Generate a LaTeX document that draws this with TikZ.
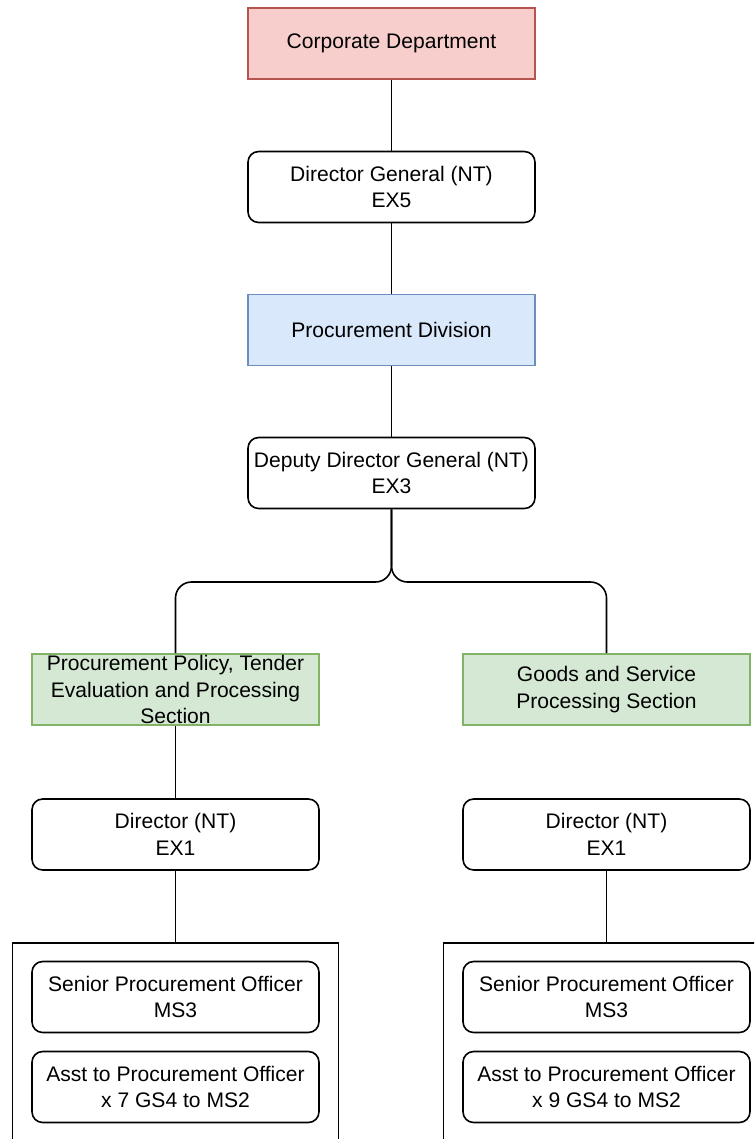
\documentclass[tikz,border=0pt]{standalone}
\usepackage{fontspec}
\setmainfont{Liberation Sans}
\definecolor{deptfill}{HTML}{F8CECC}
\definecolor{deptline}{HTML}{B85450}
\definecolor{divfill}{HTML}{DAE8FC}
\definecolor{divline}{HTML}{6C8EBF}
\definecolor{secfill}{HTML}{D5E8D4}
\definecolor{secline}{HTML}{82B366}
\begin{document}
\begin{tikzpicture}[x=0.75pt, y=-0.75pt, line width=1.2pt,
  box/.style={draw, minimum width=215.25pt, minimum height=53.25pt, inner sep=0pt,
    align=center, font=\fontsize{15.8}{19.8}\selectfont},
  post/.style={box, rounded corners=8pt, fill=white},
  dept/.style={box, fill=deptfill, draw=deptline},
  divn/.style={box, fill=divfill, draw=divline},
  sect/.style={box, fill=secfill, draw=secline},
  grp/.style={draw, minimum width=244.5pt, minimum height=162.75pt, inner sep=0pt}]
\useasboundingbox (0,0) rectangle (754,1139);
\clip (0,0) rectangle (754,1139);

\node[dept] (dept) at (391.5,43.5) {Corporate Department};
\node[post] (dg) at (391.5,187) {Director General (NT)\\EX5};
\node[divn] (div) at (391.5,330) {Procurement Division};
\node[post] (ddg) at (391.5,473) {Deputy Director General (NT)\\EX3};
\coordinate (split) at (391.5,582);

\node[sect] (secL) at (175.5,689.5) {Procurement Policy, Tender\\Evaluation and Processing\\Section};
\node[sect] (secR) at (606.5,689.5) {Goods and Service\\Processing Section};
\node[post] (dirL) at (175.5,834.5) {Director (NT)\\EX1};
\node[post] (dirR) at (606.5,834.5) {Director (NT)\\EX1};

% staff groups
\node[grp] (grpL) at (175.5,1051.5) {};
\node[grp] (grpR) at (606.5,1051.5) {};
\node[post] (sproL) at (175.5,997) {Senior Procurement Officer\\MS3};
\node[post] (astL) at (175.5,1087) {Asst to Procurement Officer\\x 7 GS4 to MS2};
\node[post] (sproR) at (606.5,997) {Senior Procurement Officer\\MS3};
\node[post] (astR) at (606.5,1087) {Asst to Procurement Officer\\x 9 GS4 to MS2};

\draw (dept) -- (dg);
\draw (dg) -- (div);
\draw (div) -- (ddg);
\draw[rounded corners=12pt] (ddg.south) -- (split) -| (secL.north);
\draw[rounded corners=12pt] (ddg.south) -- (split) -| (secR.north);
\draw (secL) -- (dirL);
\draw (dirL) -- (grpL.north);
\draw (dirR) -- (grpR.north);

\end{tikzpicture}
\end{document}
